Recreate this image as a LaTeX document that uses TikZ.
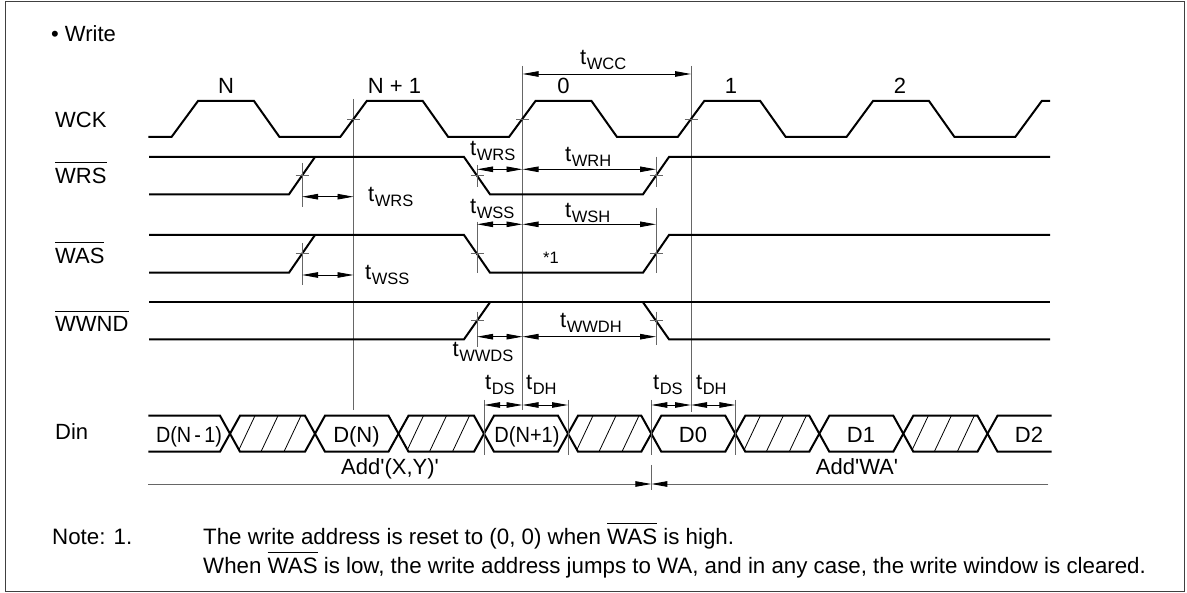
\documentclass[tikz,border=0pt]{standalone}
\usepackage{fontspec}
\setmainfont{Liberation Sans}
\usetikzlibrary{arrows.meta}
\newcommand\ovl[1]{\vbox{\hrule height 1.1pt\kern 4.5pt\hbox{#1}}}
\newcommand\tsb[1]{t\kern0.5pt\raisebox{-5pt}{\fontsize{16.5}{18}\selectfont #1}}
\begin{document}
\begin{tikzpicture}[x=1pt,y=-1pt,
  sig/.style={line width=2pt, line join=miter},
  guide/.style={line width=0.9pt, draw=black!60},
  tickm/.style={line width=0.9pt, draw=black!60},
  hatch/.style={line width=0.8pt},
  dimarr/.style={line width=0.9pt, {Triangle[length=16pt,width=5.5pt]}-{Triangle[length=16pt,width=5.5pt]}},
  addarr/.style={line width=0.9pt, draw=black!60, -{Triangle[length=16pt,width=5.5pt,color=black]}},
  lab/.style={inner sep=0pt, font=\fontsize{22}{26}\selectfont},
  notelab/.style={inner sep=0pt, font=\fontsize{22.3}{26}\selectfont},
  tlab/.style={inner sep=0pt, anchor=base west, font=\fontsize{22}{26}\selectfont}]
\useasboundingbox (0,0) rectangle (1187,593);
\fill[white] (0,0) rectangle (1187,593);
\draw[line width=1pt, black!75] (5,2) rectangle (1184,591);

% ---------- left labels ----------
\node[lab, anchor=base west] (write) at (51,41.7) {\textbullet\ Write};
\node[lab, anchor=base west] (wck) at (55,127.3) {WCK};
\node[lab, anchor=base west] (wrs) at (55,183.3) {\ovl{WRS}};
\node[lab, anchor=base west] (was) at (55,263.3) {\ovl{WAS}};
\node[lab, anchor=base west] (wwnd) at (55,331.7) {\ovl{WWND}};
\node[lab, anchor=base west] (din) at (55,440) {Din};

% ---------- cycle labels ----------
\node[lab, anchor=base] (cN) at (226,93.3) {N};
\node[lab, anchor=base] (cN1) at (394.5,93.3) {N + 1};
\node[lab, anchor=base] (c0) at (563.5,93.3) {0};
\node[lab, anchor=base] (c1) at (731,93.3) {1};
\node[lab, anchor=base] (c2) at (900,93.3) {2};

% ---------- guides ----------
\coordinate (g1t) at (353.5,99);  \coordinate (g1b) at (353.5,410);
\coordinate (g2t) at (522.5,66);  \coordinate (g2b) at (522.5,410);
\coordinate (g3t) at (691,66);    \coordinate (g3b) at (691,412);
\draw[guide] (g1t) -- (g1b);
\draw[guide] (g2t) -- (g2b);
\draw[guide] (g3t) -- (g3b);

% ---------- WCK ----------
\draw[sig] (148.3,137) -- (171.5,137) -- (198,101) -- (254,101) -- (279.5,137)
  -- (340.25,137) -- (366.75,101) -- (422.75,101) -- (448.25,137)
  -- (509,137) -- (535.5,101) -- (591.5,101) -- (617,137)
  -- (677.75,137) -- (704.25,101) -- (760.25,101) -- (785.75,137)
  -- (846.5,137) -- (873,101) -- (929,101) -- (954.5,137)
  -- (1015.25,137) -- (1041.75,101) -- (1050,101);
\foreach \x in {353.5,522.5,691} \draw[tickm] (\x-6.5,119) -- (\x+6.5,119);

% tWCC
\draw[dimarr] (522.5,74) -- (691,74);
\node[tlab] (twcc) at (580,64.5) {\tsb{WCC}};

% ---------- WRS ----------
\draw[sig] (149,157) -- (464,157) -- (490,194.3) -- (643,194.3) -- (669,157) -- (1050,157);
\draw[sig] (149,194.3) -- (289,194.3) -- (315,157);
\draw[tickm] (302,163) -- (302,207);
\draw[tickm] (477,165) -- (477,187);
\draw[tickm] (656,156.7) -- (656,187);
\foreach \x in {302,477,656} \draw[tickm] (\x-6.5,175.8) -- (\x+6.5,175.8);
\draw[dimarr] (302,196.7) -- (353.5,196.7);
\node[tlab] (twrs1) at (368,201.7) {\tsb{WRS}};
\draw[dimarr] (477,169.3) -- (522.5,169.3);
\draw[dimarr] (522.5,169.3) -- (656,169.3);
\node[tlab] (twrs2) at (470,155.5) {\tsb{WRS}};
\node[tlab] (twrh) at (565,162) {\tsb{WRH}};

% ---------- WAS ----------
\draw[sig] (149,235) -- (464,235) -- (490,272.7) -- (643,272.7) -- (669,235) -- (1050,235);
\draw[sig] (149,272.7) -- (289,272.7) -- (315,235);
\draw[tickm] (302,243) -- (302,285);
\draw[tickm] (477,221.7) -- (477,273.3);
\draw[tickm] (656,208) -- (656,273);
\foreach \x in {302,477,656} \draw[tickm] (\x-6.5,253.8) -- (\x+6.5,253.8);
\draw[dimarr] (302,275) -- (353.5,275);
\node[tlab] (twss1) at (365,279.5) {\tsb{WSS}};
\draw[dimarr] (477,224.3) -- (522.5,224.3);
\draw[dimarr] (522.5,224.3) -- (656,224.3);
\node[tlab] (twss2) at (470,213.5) {\tsb{WSS}};
\node[tlab] (twsh) at (565,217.5) {\tsb{WSH}};
\node[lab, anchor=base west, font=\fontsize{16.5}{18}\selectfont] (star) at (543,263.3) {*1};

% ---------- WWND ----------
\draw[sig] (149,302.3) -- (1050,302.3);
\draw[sig] (149,339.3) -- (464,339.3) -- (490,302.3);
\draw[sig] (643,302.3) -- (669,339.3) -- (1050,339.3);
\draw[tickm] (477,311.7) -- (477,346.7);
\draw[tickm] (656,311.7) -- (656,345);
\foreach \x in {477,656} \draw[tickm] (\x-6.5,320.8) -- (\x+6.5,320.8);
\draw[dimarr] (477,336.7) -- (522.5,336.7);
\draw[dimarr] (522.5,336.7) -- (656,336.7);
\node[tlab] (twwdh) at (560,328) {\tsb{WWDH}};
\node[tlab] (twwds) at (452.5,357) {\tsb{WWDS}};

% ---------- Din ----------
\def\T{415.7}\def\B{451.7}\def\M{433.7}
\foreach \a/\b in {230/315,398.5/484,568/651.3,735.3/819.3,903.3/987.5}{
  \begin{scope}
    \clip (\a,\M) -- (\a+10,\T) -- (\b-10,\T) -- (\b,\M) -- (\b-10,\B) -- (\a+10,\B) -- cycle;
    \foreach \i in {-1,0,1,2,3,4} \draw[hatch] (\a+8+23*\i,\B) -- ++(17,-36);
  \end{scope}
}
\draw[sig] (148.3,\T) -- (220,\T) -- (240,\B) -- (305,\B) -- (325,\T) -- (388.5,\T) -- (408.5,\B)
  -- (474,\B) -- (494,\T) -- (558,\T) -- (578,\B) -- (641.3,\B) -- (661.3,\T) -- (725.3,\T)
  -- (745.3,\B) -- (809.3,\B) -- (829.3,\T) -- (893.3,\T) -- (913.3,\B) -- (977.5,\B)
  -- (997.5,\T) -- (1051.7,\T);
\draw[sig] (148.3,\B) -- (220,\B) -- (240,\T) -- (305,\T) -- (325,\B) -- (388.5,\B) -- (408.5,\T)
  -- (474,\T) -- (494,\B) -- (558,\B) -- (578,\T) -- (641.3,\T) -- (661.3,\B) -- (725.3,\B)
  -- (745.3,\T) -- (809.3,\T) -- (829.3,\B) -- (893.3,\B) -- (913.3,\T) -- (977.5,\T)
  -- (997.5,\B) -- (1051.7,\B);
\foreach \x in {484,568,651.3,735.3} \draw[tickm] (\x,400) -- (\x,455);
\draw[dimarr] (484,405) -- (522.5,405);
\draw[dimarr] (522.5,405) -- (568,405);
\draw[dimarr] (651.3,405) -- (691,405);
\draw[dimarr] (691,405) -- (735.3,405);
\node[tlab] (tds1) at (485,389.5) {\tsb{DS}};
\node[tlab] (tdh1) at (526,389.5) {\tsb{DH}};
\node[tlab] (tds2) at (653,389.5) {\tsb{DS}};
\node[tlab] (tdh2) at (696,389.5) {\tsb{DH}};

\node[lab, anchor=base] (dnm1) at (189,443) {\scalebox{0.9}[1]{D(N\,-\,1)}};
\node[lab, anchor=base] (dn) at (356.5,443) {D(N)};
\node[lab, anchor=base] (dnp1) at (527,443) {\scalebox{0.91}[1]{D(N+1)}};
\node[lab, anchor=base] (d0) at (693,443) {D0};
\node[lab, anchor=base] (d1) at (861,443) {D1};
\node[lab, anchor=base] (d2) at (1029,443) {D2};

% ---------- address ----------
\coordinate (addL) at (148.3,484);
\coordinate (addM) at (651.3,484);
\coordinate (addR) at (1048.3,484);
\draw[addarr] (addL) -- (addM);
\draw[addarr] (addR) -- (addM);
\draw[tickm] (651.3,465) -- (651.3,490);
\node[lab, anchor=base] (addxy) at (390,475) {Add\textquotesingle(X,Y)\textquotesingle};
\node[lab, anchor=base] (addwa) at (857,475) {Add\textquotesingle WA\textquotesingle};

% ---------- note ----------
\node[notelab, anchor=base west] (note1) at (52,544) {Note: 1.};
\node[notelab, anchor=base west] (note2) at (203,544) {The write address is reset to (0, 0) when \ovl{WAS} is high.};
\node[notelab, anchor=base west] (note3) at (203,573) {When \ovl{WAS} is low, the write address jumps to WA, and in any case, the write window is cleared.};
\end{tikzpicture}
\end{document}
